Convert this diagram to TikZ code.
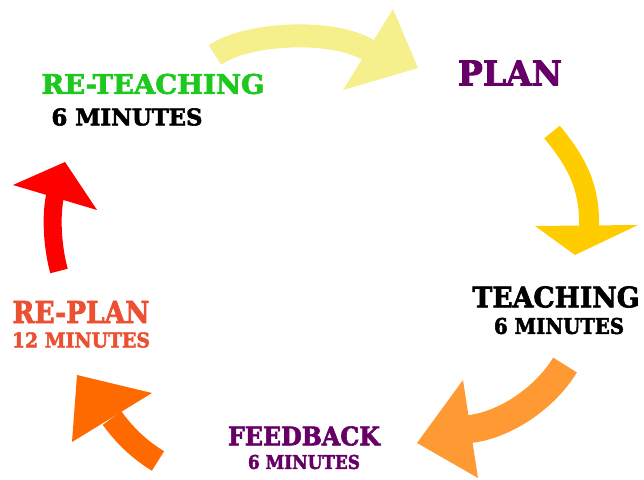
\documentclass[tikz,border=0pt]{standalone}
\usepackage{fontspec}
\usepackage{graphicx}
\setmainfont{DejaVu Serif}
\newfontfamily\heavy[FakeBold=2.5]{DejaVu Serif Bold}
\definecolor{cyel}{RGB}{245,240,140}
\definecolor{cgold}{RGB}{255,204,0}
\definecolor{corg}{RGB}{255,153,51}
\definecolor{cdorg}{RGB}{255,106,0}
\definecolor{cred}{RGB}{255,0,0}
\definecolor{cgreen}{RGB}{30,200,30}
\definecolor{cpurp}{RGB}{102,0,102}
\definecolor{crep}{RGB}{235,80,50}
\newcommand\fitw[3]{\resizebox{#1bp}{#2bp}{\heavy #3}}
\tikzset{lbl/.style={inner sep=0pt,anchor=center},
band/.style={line cap=butt}}
\begin{document}
\begin{tikzpicture}[x=1bp,y=-1bp]
\useasboundingbox (0,0) rectangle (644,480);
% yellow arrow
\draw[band,cyel,line width=23bp] (215,55) .. controls (248,32) and (334,29) .. (368,50);
\fill[cyel] (393,9) -- (418,68) -- (343,90) -- cycle;
% gold arrow
\draw[band,cgold,line width=20bp] (552,132) .. controls (575,160) and (590,185) .. (589,226);
\fill[cgold] (535,226) -- (638,225) -- (575,255) -- cycle;
% orange arrow
\draw[band,corg,line width=28bp] (565,365) .. controls (545,398) and (505,425) .. (470,429);
\fill[corg] (463,380) -- (478,478) -- (417,443) -- cycle;
% dark orange arrow
\draw[band,cdorg,line width=23bp] (158,461) .. controls (140,450) and (125,436) .. (112,418);
\fill[cdorg] (77,375) -- (152,393) -- (72,442) -- cycle;
% red arrow
\draw[band,cred,line width=18bp] (59,271) .. controls (52,245) and (51,215) .. (55,196);
\fill[cred] (65,162) -- (97,210) -- (13,185) -- cycle;
% labels
\node[lbl,text=cgreen] (rt) at (153,84) {\fitw{223}{20}{RE-TEACHING}};
\node[lbl,text=black] (rtm) at (127,117) {\fitw{151}{17}{6 MINUTES}};
\node[lbl,text=cpurp] (plan) at (510,73) {\fitw{104}{25}{PLAN}};
\node[lbl,text=black] (te) at (556,297) {\fitw{167}{21}{TEACHING}};
\node[lbl,text=black] (tem) at (559,326) {\fitw{130}{16}{6 MINUTES}};
\node[lbl,text=cpurp] (fb) at (304,436) {\fitw{152}{19}{FEEDBACK}};
\node[lbl,text=cpurp] (fbm) at (304,462) {\fitw{112}{14}{6 MINUTES}};
\node[lbl,text=crep] (rp) at (81,312) {\fitw{137}{22}{RE-PLAN}};
\node[lbl,text=crep] (rpm) at (81,340) {\fitw{138}{15}{12 MINUTES}};
\end{tikzpicture}
\end{document}
